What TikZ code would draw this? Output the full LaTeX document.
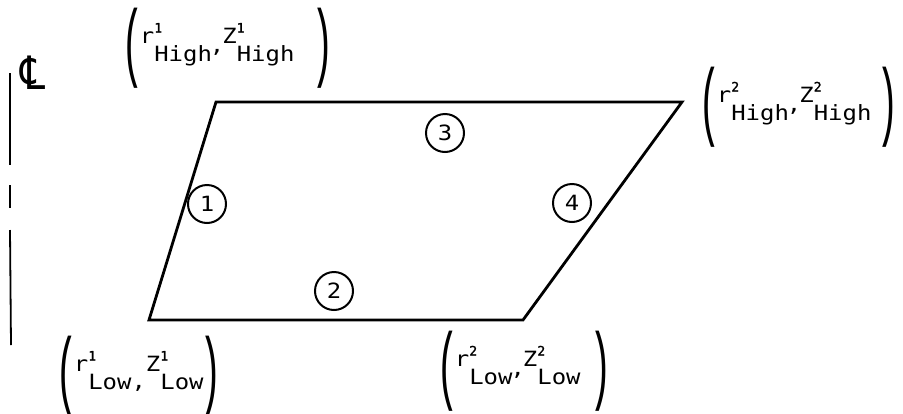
\documentclass[tikz,border=0pt]{standalone}
\usepackage{fontspec}
\usepackage{graphicx}
\setmainfont[FakeStretch=1.14]{DejaVu Sans Mono}
\newfontfamily\parfont{Liberation Mono}
\newfontfamily\clfont{DejaVu Sans}
\newfontfamily\supfont[FakeBold=1.5]{DejaVu Sans Mono}
\newcommand{\crd}[3]{#1\rlap{\raisebox{0.5em}{\supfont\fontsize{13}{13}\selectfont #2}}\raisebox{-0.9em}{#3}}
\newcommand{\lpar}{\raisebox{-1.3em}{\scalebox{1.8}[4.1]{\parfont(}}\hspace{-4pt}}
\newcommand{\rpar}{\hspace{-6pt}\raisebox{-1.3em}{\scalebox{1.8}[4.1]{\parfont)}}}
\newcommand{\hcm}{\hspace{-2pt}\raisebox{-0.45em}{,}\hspace{-2pt}}
\newcommand{\lcm}{\raisebox{-0.85em}{,}}
\begin{document}
\begin{tikzpicture}[x=1pt,y=-1pt,
  edge/.style={line width=2.8pt,line join=miter},
  num/.style={circle,draw,line width=2pt,minimum size=38pt,inner sep=0pt,font=\fontsize{21}{21}\selectfont},
  lab/.style={anchor=base west,inner sep=0pt,font=\fontsize{21}{21}\selectfont},
  cl/.style={line width=1.8pt}]
\useasboundingbox (0,0) rectangle (903,413);
% parallelogram corners
\coordinate (TL) at (216,102);
\coordinate (TR) at (682,102);
\coordinate (BR) at (523,320);
\coordinate (BL) at (149,320);
\draw[edge] (TL) -- (TR) -- (BR) -- (BL) -- cycle;
% numbered circles
\node[num] (n1) at (207,204) {1};
\node[num] (n2) at (334,291) {2};
\node[num] (n3) at (445,133) {3};
\node[num] (n4) at (572,203) {4};
% corner labels
\node[lab] (lTL) at (121,43) {\lpar\crd{r}{1}{High}\hcm\crd{Z}{1}{High}\hspace{23pt}\rpar};
\node[lab] (lTR) at (698,102) {\lpar\crd{r}{2}{High}\hcm\crd{Z}{2}{High}\hspace{11pt}\rpar};
\node[lab] (lBL) at (55,371) {\lpar\crd{r}{1}{Low}\lcm\crd{Z}{1}{Low}\hspace{2pt}\rpar};
\node[lab] (lBR) at (436,366) {\lpar\crd{r}{2}{Low}\hcm\crd{Z}{2}{Low}\hspace{15pt}\rpar};
% centre line
\coordinate (c1) at (10,73);
\coordinate (c2) at (10,165);
\coordinate (c3) at (10,185);
\coordinate (c4) at (10,208);
\coordinate (c5) at (10,230);
\coordinate (c6) at (11,345);
\draw[cl] (c1) -- (c2);
\draw[cl] (c3) -- (c4);
\draw[cl] (c5) -- (c6);
\node[font=\clfont\fontsize{46}{46}\selectfont,inner sep=0pt] (clsym) at (33,73) {\scalebox{0.85}[1]{℄}};
\end{tikzpicture}
\end{document}
